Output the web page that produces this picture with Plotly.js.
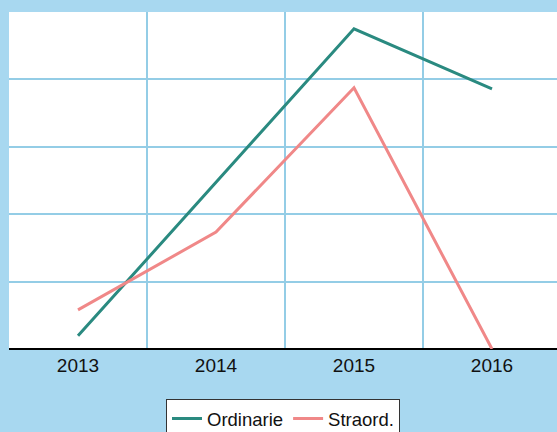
<!DOCTYPE html>
<html>
<head>
<meta charset="utf-8">
<script src="https://cdn.plot.ly/plotly-3.0.1.min.js"></script>
<style>
  html, body { margin: 0; padding: 0; background: #a8d8f0; }
  #chart { width: 557px; height: 432px; }
</style>
</head>
<body>
<div id="chart"></div>
<script>
// Years on the category axis
const years = ['2013', '2014', '2015', '2016'];

// Series values (same scale, 0–100)
const ordinarie = [3.9, 49.6, 95.0, 77.2];
const straord = [11.6, 34.7, 77.5, 0];

const seriesNames = ['Ordinarie', 'Straord.'];
const seriesColors = ['#2a8a80', '#f08888'];

const traces = [ordinarie, straord].map((vals, i) => ({
  type: 'scatter',
  mode: 'lines',
  x: years,
  y: vals,
  name: seriesNames[i],
  line: { color: seriesColors[i], width: 3 },
  hoverinfo: 'x+y+name'
}));

const layout = {
  width: 557,
  height: 432,
  paper_bgcolor: '#a8d8f0',
  plot_bgcolor: '#ffffff',
  margin: { l: 9, r: 0, t: 12, b: 83, autoexpand: false },
  font: { family: 'Liberation Sans, Arial, sans-serif', color: '#111111', size: 18 },
  showlegend: true,
  legend: {
    orientation: 'h',
    x: 0.5,
    xanchor: 'center',
    yref: 'container',
    y: 1 - 399 / 432,
    yanchor: 'top',
    bgcolor: '#ffffff',
    bordercolor: '#333333',
    borderwidth: 1,
    font: { size: 18.5, color: '#111111' }
  },
  xaxis: {
    type: 'category',
    range: [-0.5, 3.471],
    tickson: 'boundaries',
    showgrid: true,
    gridcolor: '#94cde6',
    gridwidth: 2,
    ticks: '',
    ticklabelstandoff: 3,
    showline: false,
    zeroline: false,
    tickfont: { size: 19, color: '#111111' },
    fixedrange: true
  },
  yaxis: {
    range: [0, 100],
    dtick: 20,
    showgrid: true,
    gridcolor: '#94cde6',
    gridwidth: 2,
    showticklabels: false,
    ticks: '',
    zeroline: true,
    zerolinecolor: '#000000',
    zerolinewidth: 2.5,
    fixedrange: true
  }
};

Plotly.newPlot('chart', traces, layout, { displayModeBar: false, staticPlot: true });
</script>
</body>
</html>
